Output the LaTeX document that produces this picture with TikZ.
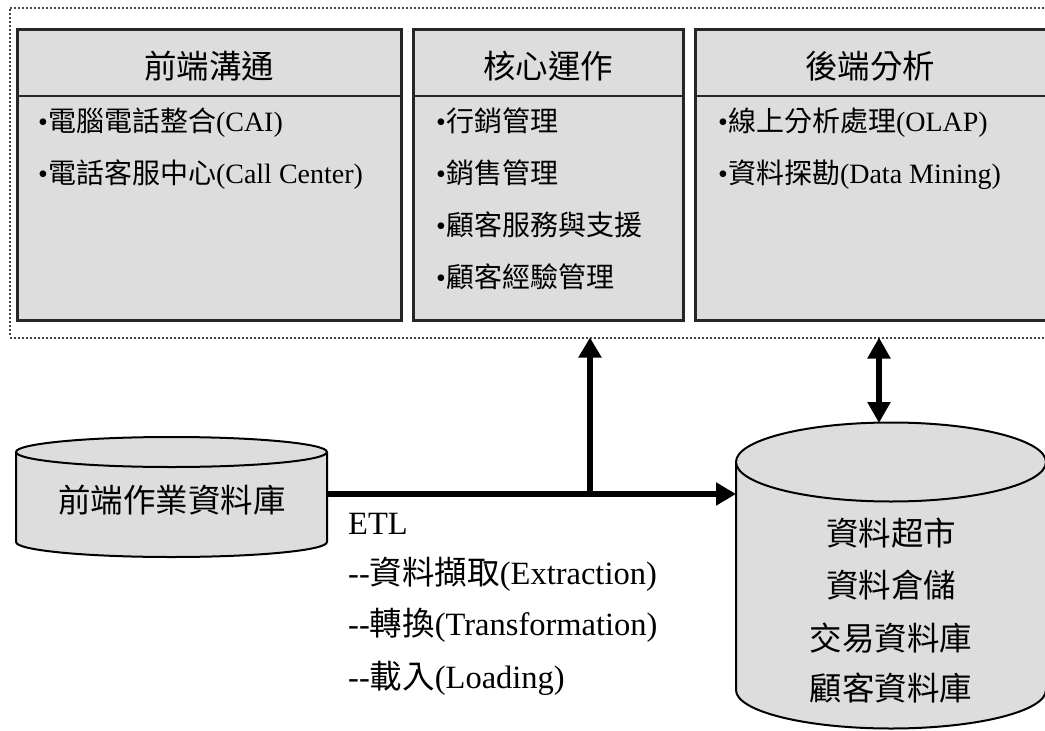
\documentclass[tikz,border=0pt]{standalone}
\usepackage{fontspec}
\setmainfont{Liberation Serif}
\newfontfamily\cjkfont{Noto Sans CJK TC}
\newcommand{\zht}[1]{{\cjkfont #1}}
\usetikzlibrary{arrows.meta}
\definecolor{boxgray}{RGB}{221,221,221}
\definecolor{cylgray}{RGB}{221,221,221}
\definecolor{framegray}{RGB}{70,70,70}
\begin{document}
\begin{tikzpicture}[x=1pt,y=-1pt,
  panel/.style={draw=black!85,line width=3pt,fill=boxgray,rectangle,anchor=north west,outer sep=0pt,inner sep=0pt,minimum height=291pt},
  title/.style={font=\fontsize{32.5}{32.5}\selectfont\cjkfont,inner sep=0pt},
  item/.style={font=\fontsize{28}{28}\selectfont,anchor=base west,inner sep=0pt},
  big/.style={font=\fontsize{32.5}{32.5}\selectfont\cjkfont,inner sep=0pt},
  etl/.style={font=\fontsize{32.5}{32.5}\selectfont,anchor=base west,inner sep=0pt},
  flow/.style={line width=6.5pt,-{Triangle[length=20pt,width=22pt]}},
  flow2/.style={line width=6.5pt,{Triangle[length=21pt,width=22pt]}-{Triangle[length=21pt,width=22pt]}},
  cyl/.style={draw=black,line width=2pt,fill=cylgray},
  hidden/.style={rectangle,inner sep=0pt,outer sep=0pt}
]
\useasboundingbox (0,0) rectangle (1045,731);
\clip (0,0) rectangle (1045,731);

% outer dotted frame
\node[draw=framegray,line width=2pt,dash pattern=on 2pt off 2pt,rectangle,anchor=north west,
      minimum width=1060pt,minimum height=330pt,inner sep=0pt,outer sep=0pt] (frame) at (9.5,7.5) {};

% panels
\node[panel,minimum width=384pt] (p1) at (17,29) {};
\node[panel,minimum width=270pt] (p2) at (413,29) {};
\node[panel,minimum width=360pt] (p3) at (695,29) {};
\draw[line width=1.2pt,black!85] (17,96) -- (401,96);
\draw[line width=1.2pt,black!85] (413,96) -- (683,96);
\draw[line width=1.2pt,black!85] (695,96) -- (1055,96);

\node[title] (t1) at (209,66) {前端溝通};
\node[title] (t2) at (548,66) {核心運作};
\node[title] (t3) at (870,66) {後端分析};

\node[item] (i11) at (38,131) {•\zht{電腦電話整合}(CAI)};
\node[item] (i12) at (38,183) {•\zht{電話客服中心}(Call Center)};

\node[item] (i21) at (436,131) {•\zht{行銷管理}};
\node[item] (i22) at (436,183) {•\zht{銷售管理}};
\node[item] (i23) at (436,235) {•\zht{顧客服務與支援}};
\node[item] (i24) at (436,287) {•\zht{顧客經驗管理}};

\node[item] (i31) at (718,131) {•\zht{線上分析處理}(OLAP)};
\node[item] (i32) at (718,183) {•\zht{資料探勘}(Data Mining)};

% left cylinder
\draw[cyl] (16,452) -- (16,542) arc[start angle=180,end angle=0,x radius=155.5,y radius=15] -- (327,452);
\draw[cyl] (171.5,452) ellipse [x radius=155.5,y radius=15];
\node[hidden,minimum width=311pt,minimum height=120pt] (cylL) at (171.5,497) {};
\node[big] (dbL) at (172,500) {前端作業資料庫};

% right cylinder
\draw[cyl] (736,462) -- (736,690) arc[start angle=180,end angle=0,x radius=155,y radius=38.5] -- (1046,462);
\draw[cyl] (891,462) ellipse [x radius=155,y radius=39.5];
\node[hidden,minimum width=310pt,minimum height=318pt] (cylR) at (891,582) {};
\node[big] (r1) at (891,533) {資料超市};
\node[big] (r2) at (891,585) {資料倉儲};
\node[big] (r3) at (891,638) {交易資料庫};
\node[big] (r4) at (891,688) {顧客資料庫};

% ETL text
\node[etl] (e0) at (348,534) {ETL};
\node[etl] (e1) at (348,584) {-{}-\zht{資料擷取}(Extraction)};
\node[etl] (e2) at (348,635) {-{}-\zht{轉換}(Transformation)};
\node[etl] (e3) at (348,688) {-{}-\zht{載入}(Loading)};

% connectors
\coordinate (j) at (590,494);
\coordinate (k) at (879,400);
\draw[flow] (cylL.east |- j) -- (cylR.west |- j);
\draw[flow] (j) -- (j |- frame.south);
\draw[flow2] (k |- frame.south) -- (k |- cylR.north);
\end{tikzpicture}
\end{document}
